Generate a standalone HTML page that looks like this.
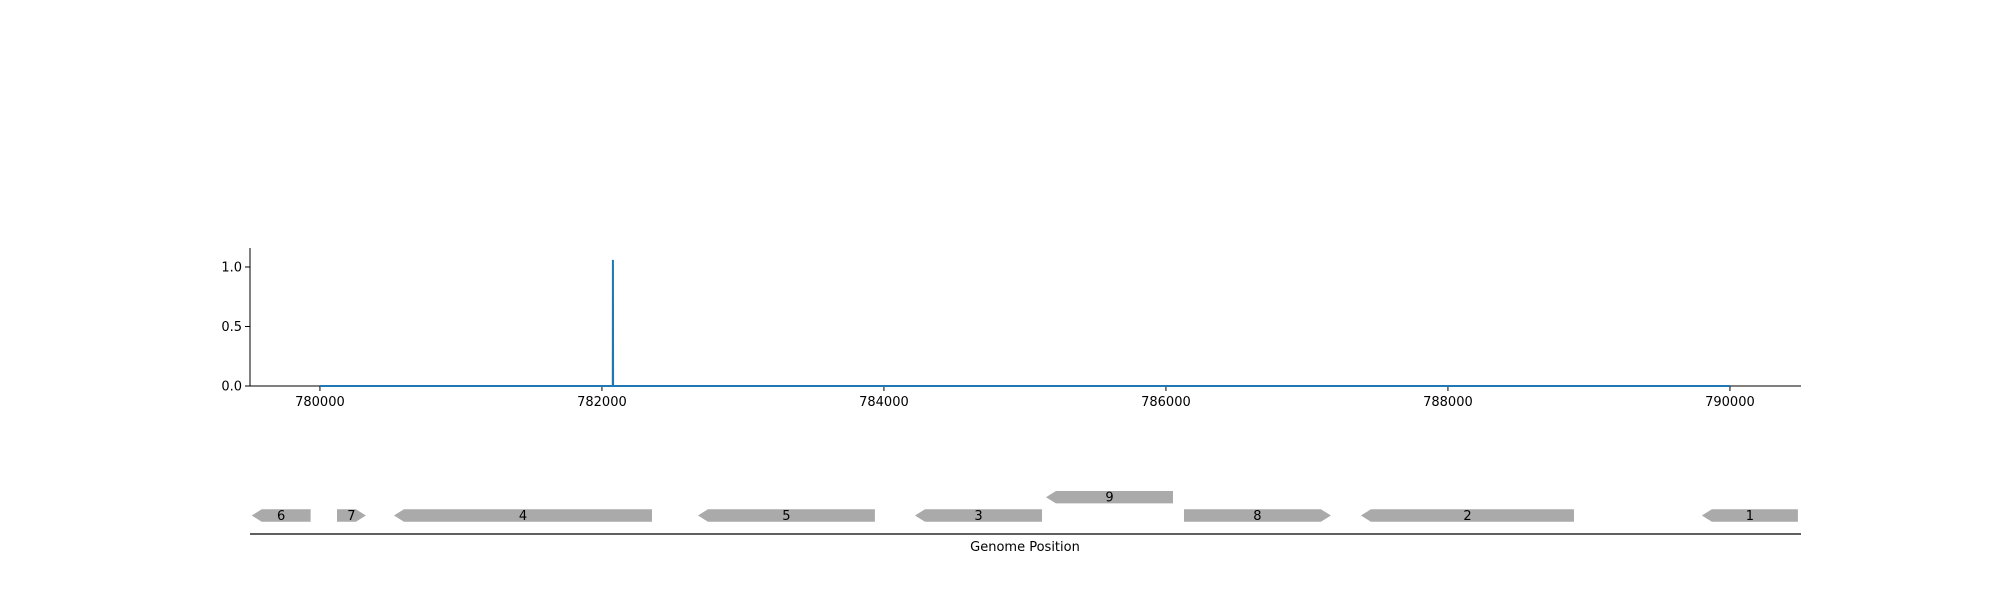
<!DOCTYPE html>
<html><head><meta charset="utf-8"><style>
html,body{margin:0;padding:0;background:#fff}
svg{display:block}
text{font-family:"DejaVu Sans","Liberation Sans",sans-serif;font-size:13px;fill:#000}
</style></head><body>
<svg id="chart" width="2000" height="600" viewBox="0 0 2000 600" xmlns="http://www.w3.org/2000/svg">
<g id="toppanel"></g>
<g id="genes"></g>
</svg>
<script>
const positions = [780000, 782077, 782078, 782079, 790000];
const coverage = [0, 0, 1.06, 0, 0];
const xTicks = [780000, 782000, 784000, 786000, 788000, 790000];
const yTicks = [0.0, 0.5, 1.0];
const geneLabels = ["6","7","4","5","3","9","8","2","1"];
const geneStarts = [779516, 780121, 780525, 782681, 784220, 785149, 786128, 787383, 789801];
const geneEnds = [779934, 780326, 782355, 783936, 785121, 786050, 787170, 788894, 790482];
const geneStrands = [-1, 1, -1, -1, -1, -1, 1, -1, -1];
const geneRows = [0, 0, 0, 0, 0, 1, 0, 0, 0];

const NS = "http://www.w3.org/2000/svg";
const X0 = 250, X1 = 1801, D0 = 779504, D1 = 790504;
const xs = v => X0 + (v - D0) / (D1 - D0) * (X1 - X0);
const ys = v => 386 - v * 119;
function mk(tag, attrs, parent) {
  const e = document.createElementNS(NS, tag);
  for (const k in attrs) e.setAttribute(k, attrs[k]);
  parent.appendChild(e);
  return e;
}
const topPanel = document.getElementById('toppanel');
const genesG = document.getElementById('genes');

let sp = mk('line', {x1:X0, y1:248, x2:X0, y2:386, stroke:'#000', 'stroke-width':1}, topPanel);


sp = mk('line', {x1:X0, y1:386, x2:X1, y2:386, stroke:'#000', 'stroke-width':1}, topPanel);



yTicks.forEach(t => {
  const y = ys(t);
  const tk = mk('line', {x1:X0-5, y1:y, x2:X0, y2:y, stroke:'#000', 'stroke-width':1}, topPanel);
  
  
  const tx = mk('text', {x:X0-8, y:y+4.5, 'text-anchor':'end'}, topPanel);
  tx.textContent = t.toFixed(1);
  
  
});
xTicks.forEach(t => {
  const x = xs(t);
  const tk = mk('line', {x1:x, y1:386, x2:x, y2:391, stroke:'#000', 'stroke-width':1}, topPanel);
  
  
  const tx = mk('text', {x:x, y:406, 'text-anchor':'middle'}, topPanel);
  tx.textContent = String(t);
  
  
});
const pts = positions.map((p, i) => xs(p).toFixed(2) + ',' + ys(coverage[i]).toFixed(2)).join(' ');
const ln = mk('polyline', {points:pts, fill:'none', stroke:'#1f77b4', 'stroke-width':2}, topPanel);



const base = mk('line', {x1:X0, y1:534, x2:X1, y2:534, stroke:'#000', 'stroke-width':1.3}, genesG);


geneLabels.forEach((lab, i) => {
  const a = xs(geneStarts[i]), b = xs(geneEnds[i]);
  const yT = geneRows[i] ? 491 : 509.3, yB = yT + 12.4, yM = (yT + yB) / 2;
  const h = Math.min(10, (b - a) * 0.4);
  let p;
  if (geneStrands[i] < 0) p = `${a},${yM} ${a+h},${yT} ${b},${yT} ${b},${yB} ${a+h},${yB}`;
  else p = `${a},${yT} ${b-h},${yT} ${b},${yM} ${b-h},${yB} ${a},${yB}`;
  const g = mk('polygon', {points:p, fill:'#aaaaaa'}, genesG);
  
  
  const t = mk('text', {x:(a+b)/2, y:yM+4.5, 'text-anchor':'middle'}, genesG);
  t.textContent = lab;
  
  
});
const xl = mk('text', {x:1025, y:551, 'text-anchor':'middle'}, genesG);
xl.textContent = 'Genome Position';


</script>
</body></html>
